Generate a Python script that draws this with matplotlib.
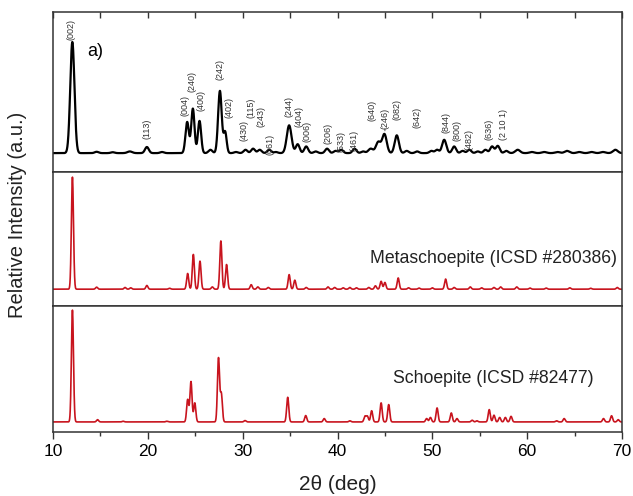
import numpy as np
import matplotlib.pyplot as plt

plt.rcParams['font.family'] = ['Liberation Sans', 'DejaVu Sans']

# measured pattern: peak position (deg), relative height, width (sigma, deg)
exp_pos = [12.04, 14.6, 16.3, 18.1, 19.9, 21.5, 24.15, 24.75, 25.45, 26.6,
           27.6, 28.15, 29.3, 30.3, 31.1, 31.8, 32.8, 33.5, 34.9, 35.8,
           36.7, 37.7, 38.9, 39.8, 40.4, 41.8, 42.7, 43.5, 44.3, 44.95,
           46.25, 47.3, 48.4, 49.9, 50.5, 51.25, 52.3, 53.2, 53.9, 54.8,
           55.6, 56.3, 56.9, 57.8, 59.0, 60.5, 61.8, 63.2, 64.2, 65.5,
           66.8, 68.0, 69.3]
exp_height = [1.0, 0.012, 0.008, 0.015, 0.055, 0.01, 0.28, 0.40, 0.29, 0.03,
              0.56, 0.19, 0.01, 0.03, 0.04, 0.03, 0.03, 0.01, 0.25, 0.08,
              0.06, 0.015, 0.04, 0.02, 0.03, 0.04, 0.015, 0.04, 0.10, 0.17,
              0.16, 0.02, 0.015, 0.02, 0.03, 0.12, 0.06, 0.02, 0.03, 0.015,
              0.03, 0.06, 0.065, 0.02, 0.03, 0.01, 0.01, 0.01, 0.02, 0.01,
              0.01, 0.01, 0.03]
exp_width = [0.22, 0.2, 0.2, 0.25, 0.2, 0.2, 0.18, 0.17, 0.17, 0.2,
             0.19, 0.16, 0.2, 0.2, 0.2, 0.2, 0.2, 0.2, 0.25, 0.2,
             0.2, 0.2, 0.2, 0.2, 0.2, 0.2, 0.2, 0.25, 0.25, 0.24,
             0.22, 0.2, 0.2, 0.2, 0.2, 0.22, 0.2, 0.2, 0.2, 0.2,
             0.2, 0.2, 0.2, 0.2, 0.25, 0.25, 0.25, 0.25, 0.25, 0.25,
             0.25, 0.25, 0.25]

# metaschoepite reference (ICSD #280386)
meta_pos = [12.05, 14.6, 17.6, 18.2, 19.9, 22.3, 24.2, 24.8, 25.5, 26.8,
            27.7, 28.3, 30.9, 31.6, 32.7, 34.9, 35.5, 36.7, 39.0, 39.7,
            40.6, 41.3, 42.0, 43.3, 44.0, 44.6, 45.0, 46.4, 47.5, 48.6,
            50.0, 51.4, 52.3, 54.0, 55.2, 56.5, 57.2, 58.9, 60.3, 62.0,
            64.5, 66.7, 69.5]
meta_height = [1.0, 0.018, 0.015, 0.012, 0.033, 0.008, 0.14, 0.31, 0.25, 0.02,
               0.43, 0.22, 0.04, 0.02, 0.015, 0.13, 0.08, 0.015, 0.02, 0.015,
               0.012, 0.015, 0.012, 0.015, 0.03, 0.07, 0.06, 0.10, 0.012, 0.01,
               0.012, 0.09, 0.015, 0.02, 0.012, 0.015, 0.02, 0.02, 0.01, 0.01,
               0.012, 0.008, 0.015]

# schoepite reference (ICSD #82477)
scho_pos = [12.05, 14.7, 17.4, 22.0, 24.2, 24.55, 24.95, 27.45, 27.75, 30.25,
            34.75, 36.65, 38.6, 41.3, 42.9, 43.15, 43.6, 44.6, 45.4, 49.4,
            49.8, 50.5, 52.0, 52.6, 54.2, 54.7, 56.0, 56.5, 57.1, 57.7,
            58.3, 63.1, 63.9, 68.05, 68.9, 69.6]
scho_height = [1.0, 0.02, 0.006, 0.006, 0.2, 0.36, 0.17, 0.57, 0.25, 0.012,
               0.22, 0.057, 0.03, 0.01, 0.05, 0.05, 0.10, 0.17, 0.155, 0.03,
               0.04, 0.125, 0.08, 0.03, 0.015, 0.01, 0.11, 0.06, 0.04, 0.04,
               0.05, 0.01, 0.03, 0.03, 0.055, 0.02]

# hkl labels of the measured pattern: text, 2theta, height of label centre
hkl = ['(002)', '(113)', '(004)', '(240)', '(400)', '(242)', '(402)', '(430)',
       '(115)', '(243)', '(061)', '(244)', '(404)', '(006)', '(206)', '(533)',
       '(461)', '(640)', '(246)', '(082)', '(642)', '(844)', '(800)', '(482)',
       '(636)', '(2 10 1)']
hkl_x = [11.9, 19.9, 23.9, 24.7, 25.6, 27.6, 28.6, 30.1,
         30.85, 31.9, 32.9, 34.9, 35.95, 36.8, 39.0, 40.4,
         41.75, 43.65, 45.0, 46.3, 48.4, 51.45, 52.6, 53.9,
         56.0, 57.5]
hkl_y = [1.117, 0.216, 0.432, 0.64, 0.477, 0.748, 0.414, 0.207,
         0.41, 0.333, 0.08, 0.423, 0.333, 0.198, 0.18, 0.108,
         0.117, 0.387, 0.315, 0.396, 0.324, 0.279, 0.207, 0.126,
         0.216, 0.261]


def profile(tt, pos, height, width):
    y = np.zeros_like(tt)
    for p, h, w in zip(pos, height, width):
        y += h * np.exp(-0.5 * ((tt - p) / w) ** 2)
    return y


tt = np.linspace(10, 70, 4001)
y_exp = profile(tt, exp_pos, exp_height, exp_width)
y_meta = profile(tt, meta_pos, meta_height, [0.11] * len(meta_pos))
y_scho = profile(tt, scho_pos, scho_height, [0.11] * len(scho_pos))

fig = plt.figure(figsize=(6.33, 4.96), dpi=100)
W, H = 633, 496
left, right = 53, 622
ax1 = fig.add_axes([left / W, 1 - 172 / H, (right - left) / W, 160 / H])
ax2 = fig.add_axes([left / W, 1 - 306 / H, (right - left) / W, 134 / H])
ax3 = fig.add_axes([left / W, 1 - 432 / H, (right - left) / W, 126 / H])

red = '#c8141e'
ax1.plot(tt, y_exp, color='black', lw=1.6)
ax2.plot(tt, y_meta, color=red, lw=1.2)
ax3.plot(tt, y_scho, color=red, lw=1.2)

ax1.set_ylim(-0.17, 1.27)
ax2.set_ylim(-0.15, 1.045)
ax3.set_ylim(-0.09, 1.036)

for ax in (ax1, ax2, ax3):
    ax.set_xlim(10, 70)
    ax.set_yticks([])
    for s in ax.spines.values():
        s.set_color('#333333')
        s.set_linewidth(1.1)

ax1.set_xticks(range(10, 71, 10))
ax1.set_xticks(range(15, 70, 10), minor=True)
ax1.tick_params(axis='x', which='both', direction='in', top=True, bottom=False,
                labelbottom=False, length=4, width=1, color='#333333')
ax2.set_xticks([])
ax3.set_xticks(range(10, 71, 10))
ax3.set_xticks(range(15, 70, 10), minor=True)
ax3.tick_params(axis='x', which='major', direction='out', length=5, width=1,
                labelsize=12.5, pad=4, color='#333333')
ax3.tick_params(axis='x', which='minor', direction='out', length=3, width=1,
                color='#333333')

for t, x, y in zip(hkl, hkl_x, hkl_y):
    ax1.text(x, y, t, rotation=90, ha='center', va='center', fontsize=6.5,
             color='#333333')
ax1.annotate('', xy=(45.0, 0.2), xytext=(45.0, 0.245),
             arrowprops=dict(arrowstyle='-', lw=0.6, color='#333333'))

ax1.text(13.6, 0.91, 'a)', fontsize=13, ha='left', va='center')
ax2.text(43.4, 0.27, 'Metaschoepite (ICSD #280386)', fontsize=12.7,
         ha='left', va='center', color='#222222')
ax3.text(45.8, 0.39, 'Schoepite (ICSD #82477)', fontsize=12.7,
         ha='left', va='center', color='#222222')

fig.text(18 / W, 1 - 215 / H, 'Relative Intensity (a.u.)', rotation=90,
         ha='center', va='center', fontsize=14.5, color='#222222')
fig.text(338 / W, 1 - 485 / H, '2θ (deg)', ha='center', va='center',
         fontsize=15, color='#222222')

fig.savefig('out.png', dpi=100)
